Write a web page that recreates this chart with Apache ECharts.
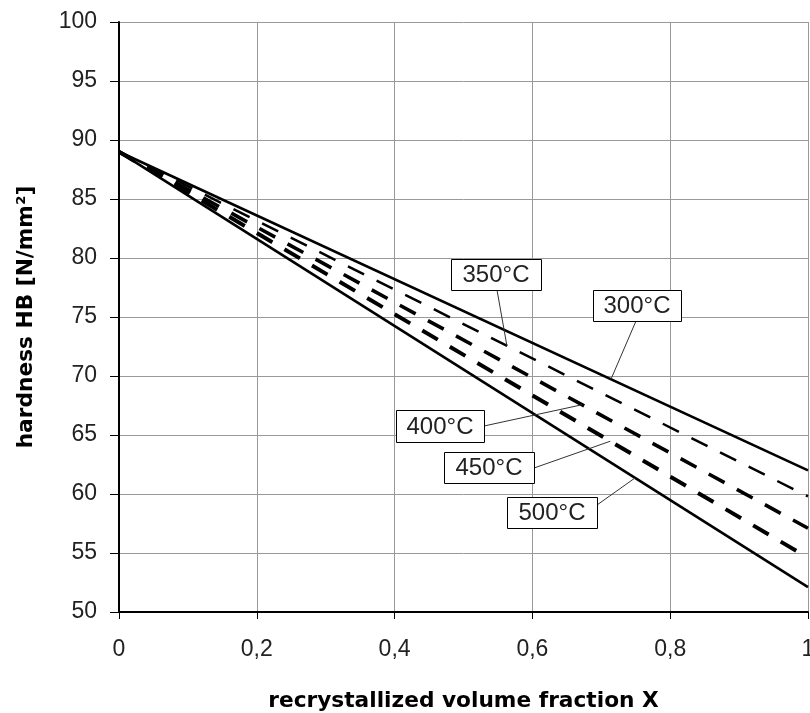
<!DOCTYPE html>
<html>
<head>
<meta charset="utf-8">
<script src="https://cdn.jsdelivr.net/npm/echarts@6/dist/echarts.min.js"></script>
<style>
html,body{margin:0;padding:0;background:#fff;}
#chart{width:810px;height:713px;}
</style>
</head>
<body>
<div id="chart"></div>
<script>
// ---- data ----
const xValues = [0, 1];
const seriesNames = ['300°C', '350°C', '400°C', '450°C', '500°C'];
const hb300 = [89, 62.0];
const hb350 = [89, 59.8];
const hb400 = [89, 57.1];
const hb450 = [89, 54.6];
const hb500 = [89, 52.1];
const xTicks = [0, 0.2, 0.4, 0.6, 0.8, 1];
const yTicks = [50, 55, 60, 65, 70, 75, 80, 85, 90, 95, 100];
// annotation anchor x (fraction X) on each series
const labelAnchorX = [0.714, 0.563, 0.672, 0.713, 0.749];

// ---- layout / style ----
const FONT = '"Liberation Sans", Arial, sans-serif';
const TITLE_FONT = '"DejaVu Sans", Verdana, sans-serif';
const lineStyles = [
  {type: 'solid', width: 2.6},
  {type: [18, 14], width: 2.5},
  {type: [18, 14], width: 3.6},
  {type: [18, 14], width: 4},
  {type: 'solid', width: 2.6}
];
// label boxes in pixels: [left, top, width, height, leaderStartX, leaderStartY]
const labelBoxes = [
  [593, 290, 88, 31, 636, 321],
  [451, 259, 90, 31, 497, 290],
  [396, 410, 88, 32, 484, 426],
  [444, 452, 90, 31, 534, 468],
  [507, 497, 90, 31, 597, 505]
];

const allSeries = [hb300, hb350, hb400, hb450, hb500];

const chart = echarts.init(document.getElementById('chart'), null, {renderer: 'canvas'});

const option = {
  backgroundColor: '#fff',
  animation: false,
  grid: {left: 119, right: 2, top: 22, bottom: 101, containLabel: false, outerBoundsMode: 'none'},
  xAxis: {
    type: 'value', min: 0, max: 1, interval: 0.2,
    name: 'recrystallized volume fraction X',
    nameLocation: 'middle', nameGap: 78,
    nameTextStyle: {fontFamily: TITLE_FONT, fontSize: 21.7, fontWeight: 'bold', color: '#000'},
    axisLine: {show: true, onZero: false, lineStyle: {color: '#000', width: 2}},
    axisTick: {show: true, length: 7, lineStyle: {color: '#000', width: 1}},
    axisLabel: {
      margin: 26, fontFamily: FONT, fontSize: 23, color: '#222',
      formatter: v => { const t = xTicks.find(a => Math.abs(a - v) < 1e-9); return t === undefined ? '' : String(t).replace('.', ','); }
    },
    splitLine: {show: true, lineStyle: {color: '#999', width: 1}}
  },
  yAxis: {
    type: 'value', min: 50, max: 100, interval: 5,
    name: 'hardness HB [N/mm²]',
    nameLocation: 'middle', nameGap: 82, nameRotate: 90,
    nameTextStyle: {fontFamily: TITLE_FONT, fontSize: 21.7, fontWeight: 'bold', color: '#000'},
    axisLine: {show: true, onZero: false, lineStyle: {color: '#000', width: 2}},
    axisTick: {show: true, length: 9, lineStyle: {color: '#000', width: 1}},
    axisLabel: {margin: 22, fontFamily: FONT, fontSize: 23, color: '#222',
      formatter: v => yTicks.includes(v) ? String(v) : ''},
    splitLine: {show: true, lineStyle: {color: '#999', width: 1}}
  },
  series: allSeries.map((vals, i) => ({
    name: seriesNames[i],
    type: 'line',
    data: xValues.map((x, j) => [x, vals[j]]),
    showSymbol: false,
    symbol: 'none',
    lineStyle: Object.assign({color: '#000', cap: 'butt'}, lineStyles[i]),
    z: 3
  }))
};
chart.setOption(option);

// annotations
function valueAt(vals, x) {
  return vals[0] + (vals[1] - vals[0]) * (x - xValues[0]) / (xValues[1] - xValues[0]);
}
const graphics = [];
allSeries.forEach((vals, i) => {
  const ax = labelAnchorX[i];
  const p = chart.convertToPixel({gridIndex: 0}, [ax, valueAt(vals, ax)]);
  const b = labelBoxes[i];
  graphics.push({
    type: 'line', z: 10,
    shape: {x1: b[4], y1: b[5], x2: p[0], y2: p[1]},
    style: {stroke: '#333', lineWidth: 1}
  });
  graphics.push({
    type: 'rect', z: 11,
    shape: {x: b[0] + 0.5, y: b[1] + 0.5, width: b[2], height: b[3]},
    style: {fill: '#fff', stroke: '#000', lineWidth: 1}
  });
  graphics.push({
    type: 'text', z: 12,
    x: b[0] + b[2] / 2, y: b[1] + b[3] / 2 + 1,
    style: {text: seriesNames[i], font: '24px ' + FONT, fill: '#222', align: 'center', verticalAlign: 'middle'}
  });
});
chart.setOption({graphic: graphics});
</script>
</body>
</html>
